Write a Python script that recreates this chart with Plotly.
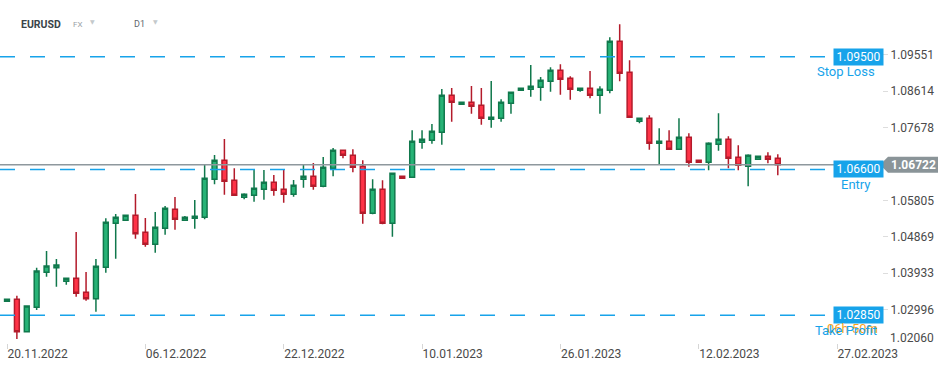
import plotly.graph_objects as go

symbol = "EURUSD"
market = "FX"
interval = "D1"

opens = [
    1.03210, 1.03261, 1.02428, 1.03056, 1.03956, 1.04074, 1.03724, 1.03801, 1.03441, 1.03277,
    1.04084, 1.05216, 1.05293, 1.05421, 1.04984, 1.04676, 1.05087, 1.05576, 1.05293, 1.05344,
    1.05370, 1.06347, 1.06836, 1.06322, 1.05884, 1.05936, 1.06090, 1.06270, 1.06090, 1.05961,
    1.06347, 1.06424, 1.06167, 1.06630, 1.07093, 1.06964, 1.06682, 1.05473, 1.06090, 1.05216,
    1.06424, 1.06399, 1.07299, 1.07350, 1.07556, 1.08507, 1.08276, 1.08327, 1.08250, 1.07890,
    1.07916, 1.08302, 1.08636, 1.08662, 1.08713, 1.08867, 1.09150, 1.08945, 1.08636, 1.08687,
    1.08507, 1.08636, 1.09896, 1.09099, 1.07839, 1.07916, 1.07273, 1.07324, 1.07119, 1.07427,
    1.06836, 1.06784, 1.07247, 1.07376, 1.06913, 1.06682, 1.06862, 1.06939, 1.06887]

highs = [
    1.03261, 1.03354, 1.03095, 1.04074, 1.04503, 1.04298, 1.03801, 1.04992, 1.03963, 1.04298,
    1.05344, 1.05455, 1.05430, 1.05969, 1.05352, 1.05506, 1.05661, 1.05892, 1.05403, 1.05815,
    1.06715, 1.06972, 1.07384, 1.06630, 1.05987, 1.06586, 1.06586, 1.06458, 1.06612, 1.06329,
    1.06715, 1.06766, 1.06921, 1.07152, 1.07100, 1.07119, 1.06836, 1.06347, 1.06322, 1.06502,
    1.06430, 1.07607, 1.07607, 1.07769, 1.08669, 1.08695, 1.08335, 1.08747, 1.08695, 1.08875,
    1.08404, 1.08590, 1.08695, 1.09287, 1.08978, 1.09227, 1.09305, 1.08996, 1.08695, 1.09132,
    1.08739, 1.09999, 1.10333, 1.09407, 1.07925, 1.07993, 1.07659, 1.07607, 1.07916, 1.07530,
    1.06840, 1.07299, 1.08044, 1.07453, 1.07222, 1.06990, 1.06945, 1.07042, 1.06990]

lows = [
    1.03205, 1.02240, 1.02420, 1.02986, 1.03843, 1.03585, 1.03637, 1.03328, 1.03225, 1.02942,
    1.03945, 1.04305, 1.05285, 1.04820, 1.04614, 1.04460, 1.04923, 1.05051, 1.05285, 1.05077,
    1.05319, 1.06219, 1.05951, 1.05930, 1.05833, 1.05771, 1.05823, 1.05925, 1.05745, 1.05900,
    1.06131, 1.06080, 1.06142, 1.06424, 1.06887, 1.06527, 1.05205, 1.05447, 1.05190, 1.04870,
    1.06365, 1.06390, 1.07134, 1.07263, 1.07237, 1.07828, 1.08268, 1.08034, 1.07751, 1.07674,
    1.07828, 1.08034, 1.08630, 1.08471, 1.08368, 1.08600, 1.08523, 1.08394, 1.08600, 1.08430,
    1.08034, 1.08559, 1.08867, 1.07935, 1.07787, 1.07108, 1.06733, 1.07110, 1.07110, 1.06671,
    1.06780, 1.06579, 1.07083, 1.06630, 1.06579, 1.06167, 1.06855, 1.06759, 1.06450]

closes = [
    1.03261, 1.02428, 1.03089, 1.03989, 1.04118, 1.04143, 1.03801, 1.03416, 1.03277, 1.04110,
    1.05241, 1.05370, 1.05421, 1.04948, 1.04676, 1.05113, 1.05601, 1.05319, 1.05370, 1.05396,
    1.06373, 1.06836, 1.06296, 1.05936, 1.05961, 1.06116, 1.06270, 1.06064, 1.05961, 1.06193,
    1.06424, 1.06167, 1.06656, 1.07093, 1.06964, 1.06656, 1.05473, 1.06090, 1.05216, 1.06502,
    1.06373, 1.07324, 1.07376, 1.07582, 1.08507, 1.08327, 1.08327, 1.08224, 1.07916, 1.07942,
    1.08327, 1.08585, 1.08687, 1.08739, 1.08893, 1.09150, 1.08919, 1.08662, 1.08687, 1.08507,
    1.08662, 1.09896, 1.09073, 1.07942, 1.07916, 1.07273, 1.07324, 1.07119, 1.07427, 1.06784,
    1.06784, 1.07273, 1.07376, 1.06887, 1.06707, 1.06964, 1.06939, 1.06862, 1.06722]

date_labels = ["20.11.2022", "06.12.2022", "22.12.2022", "10.01.2023",
               "26.01.2023", "12.02.2023", "27.02.2023"]
bars_per_label = 14

price_ticks = [1.09551, 1.08614, 1.07678, 1.05805, 1.04869, 1.03933, 1.02996]
price_tick_bottom = 1.02060

stop_loss = 1.09500
entry = 1.06600
take_profit = 1.02850
current_price = 1.06722
countdown = "06h 50m"

levels = [("Stop Loss", stop_loss), ("Entry", entry), ("Take Profit", take_profit)]

BLUE = "#17a3ea"
FONT = "Roboto"

x_idx = list(range(len(opens)))

fig = go.Figure()
fig.add_trace(go.Candlestick(
    x=x_idx, open=opens, high=highs, low=lows, close=closes,
    increasing=dict(fillcolor="#27b376", line=dict(color="#10784c", width=1.5)),
    decreasing=dict(fillcolor="#ff3347", line=dict(color="#b31b2b", width=1.5)),
    whiskerwidth=0, hoverinfo="skip", showlegend=False,
))

W_PLOT = 882.0
def px(p):
    return p / W_PLOT

shapes = []
annotations = []

# current price line
shapes.append(dict(type="line", xref="paper", yref="y", x0=0, x1=1,
                   y0=current_price, y1=current_price,
                   line=dict(color="#8e989d", width=1.5), layer="above"))

# level lines
name_xc = {"Stop Loss": 846, "Entry": 856, "Take Profit": 846}
for name, val in levels:
    shapes.append(dict(type="line", xref="paper", yref="y", x0=0, x1=px(833),
                       y0=val, y1=val,
                       line=dict(color=BLUE, width=1.5, dash="15px,15px"), layer="above"))
    annotations.append(dict(xref="paper", yref="y", x=px(833), y=val, xanchor="left",
                            yanchor="middle", text=f"{val:.5f}", showarrow=False,
                            bgcolor=BLUE, width=47, height=14, borderpad=1,
                            font=dict(family=FONT, size=12, color="white")))
    if name == "Take Profit":
        annotations.append(dict(xref="paper", yref="y", x=px(852), y=val, yshift=-13,
                                xanchor="center", yanchor="middle", text=countdown,
                                showarrow=False,
                                font=dict(family=FONT, size=13, color="#f7a21b")))
    annotations.append(dict(xref="paper", yref="y", x=px(name_xc[name]), y=val, yshift=-15,
                            xanchor="center", yanchor="middle", text=name, showarrow=False,
                            font=dict(family=FONT, size=13, color=BLUE)))

# current price tag
shapes.append(dict(type="path", xref="paper", yref="y", xsizemode="pixel", ysizemode="pixel",
                   xanchor=1, yanchor=current_price,
                   path="M -2,0 L 6,8 L 56,8 L 56,-8 L 6,-8 Z",
                   fillcolor="#8a9498", line=dict(width=0), layer="above"))
annotations.append(dict(xref="paper", yref="y", x=1, xshift=31, y=current_price,
                        xanchor="center", yanchor="middle", text=f"<b>{current_price:.5f}</b>",
                        showarrow=False, font=dict(family=FONT, size=12, color="white")))

# bottom price label (at plot edge)
annotations.append(dict(xref="paper", yref="paper", x=1, xshift=6, y=0, yshift=-4,
                        xanchor="left", yanchor="bottom", text=f"{price_tick_bottom:.5f}",
                        showarrow=False, font=dict(family=FONT, size=12, color="#4a4a4a")))

# header
H_PLOT = 343.0
annotations += [
    dict(xref="paper", yref="paper", x=px(19), y=1 - 24 / H_PLOT, xanchor="left",
         yanchor="middle", text=f"<b>{symbol}</b>", showarrow=False,
         font=dict(family=FONT, size=10.5, color="#3a4449")),
    dict(xref="paper", yref="paper", x=px(71), y=1 - 24.5 / H_PLOT, xanchor="left",
         yanchor="middle", text=market, showarrow=False,
         font=dict(family=FONT, size=8, color="#9aa1a6")),
    dict(xref="paper", yref="paper", x=px(88), y=1 - 22 / H_PLOT, xanchor="left",
         yanchor="middle", text="▼", showarrow=False,
         font=dict(family="DejaVu Sans", size=6, color="#c4c9cc")),
    dict(xref="paper", yref="paper", x=px(132), y=1 - 24 / H_PLOT, xanchor="left",
         yanchor="middle", text=interval, showarrow=False,
         font=dict(family=FONT, size=9, color="#5f686d")),
    dict(xref="paper", yref="paper", x=px(151), y=1 - 22 / H_PLOT, xanchor="left",
         yanchor="middle", text="▼", showarrow=False,
         font=dict(family="DejaVu Sans", size=6, color="#c4c9cc")),
]

x_ticks = [i * bars_per_label for i in range(len(date_labels))]
y_top = stop_loss + 56.7 / 3888.7
y_bot = stop_loss - (H_PLOT - 56.7) / 3888.7
x_left = -7 / 9.882
x_right = x_left + W_PLOT / 9.882

fig.update_layout(
    width=949, height=370,
    margin=dict(l=0, r=949 - int(W_PLOT), t=0, b=370 - int(H_PLOT)),
    paper_bgcolor="white", plot_bgcolor="white",
    font=dict(family=FONT, size=12, color="#4a4a4a"),
    showlegend=False,
    shapes=shapes, annotations=annotations,
    xaxis=dict(range=[x_left, x_right], rangeslider=dict(visible=False),
               tickmode="array", tickvals=x_ticks, ticktext=date_labels,
               ticks="outside", ticklen=5, tickcolor="#d6d6d6", tickwidth=1,
               ticklabelposition="outside right",
               showgrid=False, zeroline=False, showline=False,
               tickfont=dict(family=FONT, size=12, color="#4a4a4a")),
    yaxis=dict(range=[y_bot, y_top], side="right",
               tickmode="array", tickvals=price_ticks,
               ticktext=[f"{v:.5f}" for v in price_ticks],
               ticks="outside", ticklen=5, tickcolor="#dddddd",
               showgrid=False, zeroline=False, showline=False,
               tickfont=dict(family=FONT, size=12, color="#4a4a4a")),
)

fig.write_html("out.html", config={"displayModeBar": False},
               post_script="document.body.style.margin='0';document.body.style.overflow='hidden';")
